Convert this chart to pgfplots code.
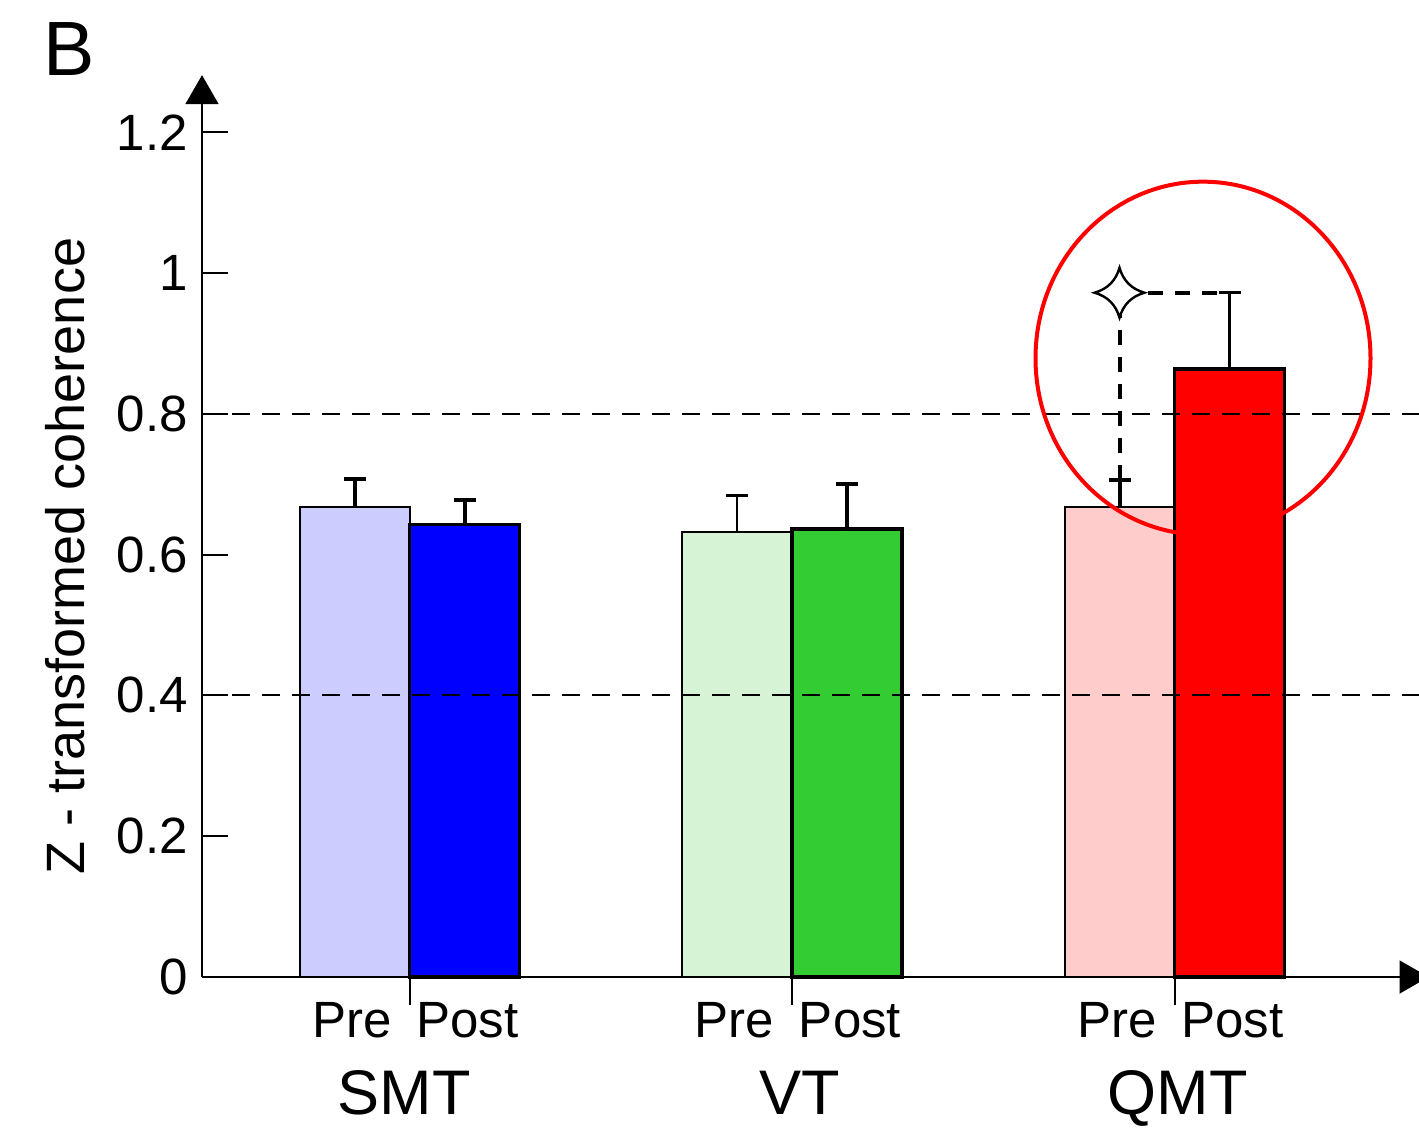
\documentclass[border=0pt]{standalone}
\usepackage{fontspec}
\setmainfont{Liberation Sans}
\usepackage{pgfplots}
\pgfplotsset{compat=1.18}
\usetikzlibrary{arrows.meta}

\definecolor{smtpre}{RGB}{204,204,255}
\definecolor{smtpost}{RGB}{0,0,255}
\definecolor{vtpre}{RGB}{214,243,214}
\definecolor{vtpost}{RGB}{51,204,51}
\definecolor{qmtpre}{RGB}{255,204,204}
\definecolor{qmtpost}{RGB}{255,0,0}

\pgfdeclareplotmark{star4}{%
  \pgfpathmoveto{\pgfpoint{0pt}{\pgfplotmarksize}}%
  \pgfpathquadraticcurveto{\pgfpoint{0.22\pgfplotmarksize}{0.22\pgfplotmarksize}}{\pgfpoint{\pgfplotmarksize}{0pt}}%
  \pgfpathquadraticcurveto{\pgfpoint{0.22\pgfplotmarksize}{-0.22\pgfplotmarksize}}{\pgfpoint{0pt}{-\pgfplotmarksize}}%
  \pgfpathquadraticcurveto{\pgfpoint{-0.22\pgfplotmarksize}{-0.22\pgfplotmarksize}}{\pgfpoint{-\pgfplotmarksize}{0pt}}%
  \pgfpathquadraticcurveto{\pgfpoint{-0.22\pgfplotmarksize}{0.22\pgfplotmarksize}}{\pgfpoint{0pt}{\pgfplotmarksize}}%
  \pgfpathclose
  \pgfusepathqfillstroke}

\newcommand{\PP}{\makebox[0pt][r]{Pre\hspace{9pt}}\makebox[0pt][l]{\hspace{3.5pt}Post}}

\pgfplotsset{
  thickerr/.style={/pgfplots/error bars/error bar style={line width=2pt},
    /pgfplots/error bars/error mark options={rotate=90, mark size=5.5pt, line width=2pt}},
  thinerr/.style={/pgfplots/error bars/error bar style={line width=1.1pt},
    /pgfplots/error bars/error mark options={rotate=90, mark size=5.5pt, line width=1.3pt}},
}

\begin{document}
\begin{tikzpicture}
\useasboundingbox (0,0) rectangle (709.5pt,565.5pt);
\begin{axis}[
  at={(101pt,77pt)}, anchor=south west,
  x=191.25pt, y=352pt,
  xmin=-0.5425, xmax=2.7, ymin=0, ymax=1.385,
  clip=false,
  axis lines*=left, axis line style={draw=none},
  tick align=inside,
  major tick length=13pt,
  ytick={0,0.2,0.4,0.6,0.8,1,1.2},
  ytick style={black, line width=1pt},
  xtick={0,1,2}, xticklabels={\PP,\PP,\PP},
  xtick style={draw=none},
  xticklabel style={anchor=base, yshift=-30pt, font=\fontsize{25.5}{30}\selectfont},
  yticklabel style={font=\fontsize{25.5}{30}\selectfont, inner sep=0pt, xshift=-7pt},
  /pgf/number format/assume math mode=true,
]
% bars
\addplot[ybar, bar width=0.2876, bar shift=0pt, fill=smtpre, draw=black, line width=1pt,
  thickerr, error bars/y dir=plus, error bars/y explicit]
  coordinates {(-0.1438,0.668) +- (0,0.039)};
\addplot[ybar, bar width=0.2876, bar shift=0pt, fill=smtpost, draw=black, line width=1.8pt,
  thickerr, error bars/y dir=plus, error bars/y explicit]
  coordinates {(0.1438,0.643) +- (0,0.034)};
\addplot[ybar, bar width=0.2876, bar shift=0pt, fill=vtpre, draw=black, line width=1pt,
  thinerr, error bars/y dir=plus, error bars/y explicit]
  coordinates {(0.8562,0.632) +- (0,0.052)};
\addplot[ybar, bar width=0.2876, bar shift=0pt, fill=vtpost, draw=black, line width=1.8pt,
  thickerr, error bars/y dir=plus, error bars/y explicit]
  coordinates {(1.1438,0.636) +- (0,0.064)};
\addplot[ybar, bar width=0.2876, bar shift=0pt, fill=qmtpre, draw=black, line width=1pt,
  thickerr, error bars/y dir=plus, error bars/y explicit]
  coordinates {(1.8562,0.668) +- (0,0.038)};
\addplot[ybar, bar width=0.2876, bar shift=0pt, fill=qmtpost, draw=black, line width=1.8pt,
  thinerr, error bars/y dir=plus, error bars/y explicit]
  coordinates {(2.1438,0.864) +- (0,0.108)};
% reference lines
\addplot[black, line width=1pt, dash pattern=on 9pt off 6pt] coordinates {(-0.5425,0.8) (2.7,0.8)};
\addplot[black, line width=1pt, dash pattern=on 9pt off 6pt] coordinates {(-0.5425,0.4) (2.7,0.4)};
% significance bracket
\addplot[black, line width=2pt, dash pattern=on 7.5pt off 6pt] coordinates {(1.8562,0.706) (1.8562,0.972) (2.1438,0.972)};
\addplot[only marks, mark=star4, mark size=12.5pt, mark options={fill=white, draw=black, line width=1.2pt, solid}] coordinates {(1.8562,0.972)};
% axis lines
\draw[line width=1pt, -{Triangle[width=16.5pt,length=14.5pt]}] (axis cs:-0.5425,0) -- (axis cs:-0.5425,1.281);
\draw[line width=1pt, -{Triangle[width=16.5pt,length=14.5pt]}] (axis cs:-0.5425,0) -- (axis cs:2.664,0);
\draw[line width=1pt] (axis cs:0,0) -- ([yshift=-14pt]axis cs:0,0);
\draw[line width=1pt] (axis cs:1,0) -- ([yshift=-14pt]axis cs:1,0);
\draw[line width=1pt] (axis cs:2,0) -- ([yshift=-14pt]axis cs:2,0);
% annotations
\draw[red, line width=2pt] (axis cs:2.0745,0.879) ellipse [x radius=83.75pt, y radius=88.25pt];
\node[anchor=base, font=\fontsize{31.5}{36}\selectfont] at (axis cs:-0.014,-0.196) {SMT};
\node[anchor=base, font=\fontsize{31.5}{36}\selectfont] at (axis cs:1.021,-0.196) {VT};
\node[anchor=base, font=\fontsize{31.5}{36}\selectfont] at (axis cs:2.009,-0.196) {QMT};
\node[anchor=base, font=\fontsize{38.5}{44}\selectfont] at (axis cs:-0.889,1.281) {B};
\node[rotate=90, font=\fontsize{27}{32}\selectfont] at (axis cs:-0.9007,0.598) {Z - transformed coherence};
\end{axis}
\end{tikzpicture}
\end{document}
